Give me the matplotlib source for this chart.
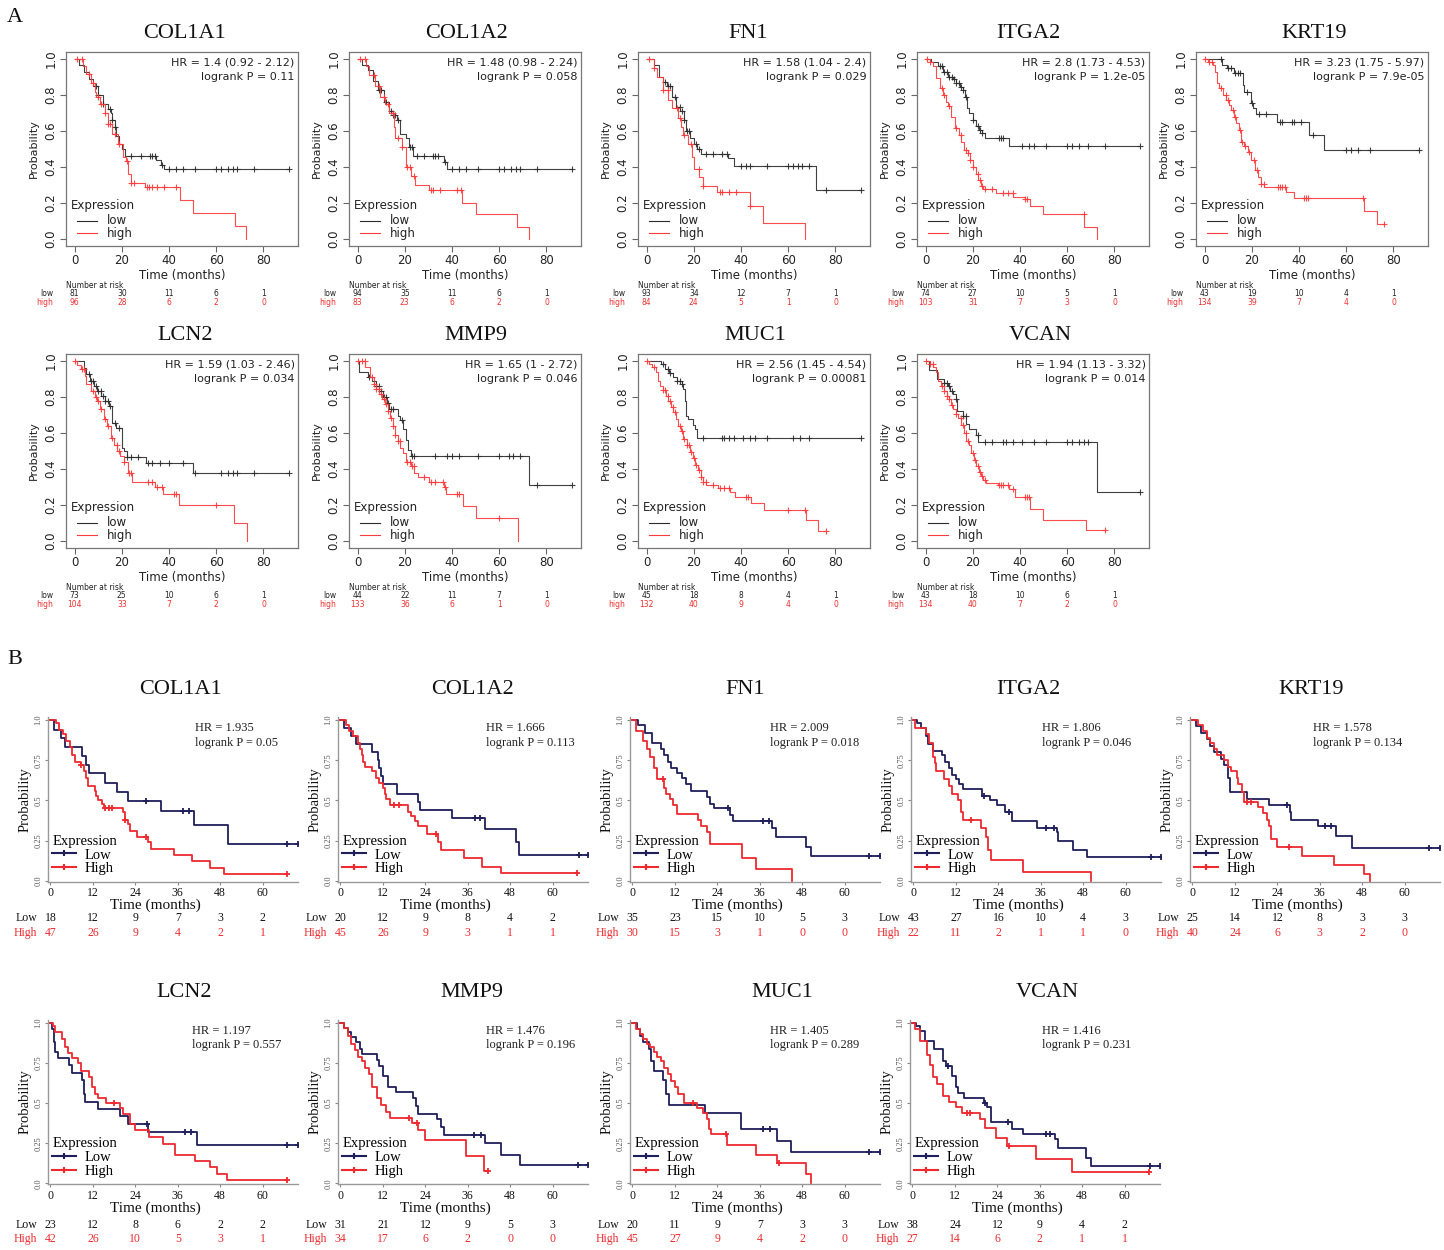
import numpy as np
import matplotlib
matplotlib.use("Agg")
import matplotlib.pyplot as plt
import matplotlib.transforms as mtrans
from matplotlib.lines import Line2D

W, H = 1444, 1250
SERIF = "Liberation Serif"
SANS = "DejaVu Sans"
plt.rcParams["font.family"] = SANS

# ------------------------------------------------------------------ panel A data
genes_a = ["COL1A1", "COL1A2", "FN1", "ITGA2", "KRT19", "LCN2", "MMP9", "MUC1", "VCAN"]
hr_a = ["1.4 (0.92 - 2.12)", "1.48 (0.98 - 2.24)", "1.58 (1.04 - 2.4)", "2.8 (1.73 - 4.53)",
        "3.23 (1.75 - 5.97)", "1.59 (1.03 - 2.46)", "1.65 (1 - 2.72)", "2.56 (1.45 - 4.54)",
        "1.94 (1.13 - 3.32)"]
p_a = ["0.11", "0.058", "0.029", "1.2e-05", "7.9e-05", "0.034", "0.046", "0.00081", "0.014"]
risk_times_a = [0, 20, 40, 60, 80]
risk_low_a = [[81, 30, 11, 6, 1], [94, 35, 11, 6, 1], [93, 34, 12, 7, 1], [74, 27, 10, 5, 1],
              [43, 19, 10, 4, 1], [73, 25, 10, 6, 1], [44, 22, 11, 7, 1], [45, 18, 8, 4, 1],
              [43, 18, 10, 6, 1]]
risk_high_a = [[96, 28, 6, 2, 0], [83, 23, 6, 2, 0], [84, 24, 5, 1, 0], [103, 31, 7, 3, 0],
               [134, 39, 7, 4, 0], [104, 33, 7, 2, 0], [133, 36, 6, 1, 0], [132, 40, 9, 4, 0],
               [134, 40, 7, 2, 0]]

# survival steps (time, probability) and censor times
a_col1a1_low = [(0, 1.0), (2, 0.97), (4, 0.93), (6, 0.89), (8, 0.85), (10, 0.80), (12, 0.75), (14, 0.72),
                (15.5, 0.70), (16, 0.66), (17, 0.62), (17.7, 0.57), (19, 0.53), (20, 0.50), (21.2, 0.46),
                (34.6, 0.44), (36.5, 0.41), (37.7, 0.39)]
a_col1a1_low_cens = [9, 10, 12, 15, 16, 17, 24, 28, 32, 33, 34, 37, 40, 43, 46, 51, 60, 62, 65, 67, 69, 76, 91]
a_col1a1_high = [(0, 1.0), (3.5, 0.96), (5, 0.92), (7, 0.87), (8.5, 0.82), (9.2, 0.79), (10.6, 0.75),
                 (12.7, 0.70), (14, 0.64), (16, 0.585), (18.4, 0.53), (20.5, 0.455), (21.6, 0.435),
                 (22.6, 0.36), (24, 0.31), (30, 0.29), (44.5, 0.215), (50.2, 0.144), (68.1, 0.07), (72.8, 0.0)]
a_col1a1_high_cens = [1, 3, 6, 8, 10, 11, 13, 14, 15, 17, 19, 22, 24, 25, 30.5, 31.5, 33, 35, 38, 43]

a_col1a2_low = [(0, 1.0), (1.8, 0.97), (4.2, 0.94), (6.5, 0.88), (8.8, 0.83), (11, 0.76), (13.4, 0.71),
                (15, 0.69), (16.5, 0.66), (18, 0.585), (20.3, 0.56), (21.8, 0.51), (23.4, 0.46),
                (36.5, 0.43), (38, 0.39)]
a_col1a2_low_cens = [9, 10, 12, 14, 15, 16, 17, 22, 23, 25, 28, 32, 33, 34, 37, 40, 43, 46, 51, 60, 62, 65,
                     67, 69, 76, 91]
a_col1a2_high = [(0, 1.0), (3.4, 0.96), (5, 0.91), (7.2, 0.85), (9.5, 0.79), (11.4, 0.75), (13.4, 0.70),
                 (15.4, 0.62), (16, 0.56), (18.8, 0.51), (20.3, 0.40), (22.6, 0.35), (24.2, 0.30),
                 (30.3, 0.27), (44.2, 0.20), (50, 0.138), (67.7, 0.067), (72.6, 0.0)]
a_col1a2_high_cens = [1, 3, 7, 9, 11, 13, 15, 17, 19, 21, 22, 24, 31, 32, 35, 42, 44]

a_fn1_low = [(0, 1.0), (3, 0.97), (5.4, 0.9), (6.9, 0.875), (8.5, 0.85), (10.8, 0.79), (12.3, 0.735),
             (14.3, 0.71), (15.8, 0.66), (16.9, 0.60), (18.5, 0.56), (20, 0.53), (21.5, 0.50), (23, 0.47),
             (34.6, 0.45), (36.9, 0.405), (71.8, 0.27)]
a_fn1_low_cens = [8, 9, 10, 12, 14, 15, 16, 17, 18, 21, 22, 25, 28, 32, 34, 40, 42, 44, 51, 60, 62, 64, 66,
                  69, 76, 91]
a_fn1_high = [(0, 1.0), (3, 0.95), (4.6, 0.90), (6.9, 0.83), (9.2, 0.77), (10.8, 0.73), (13.1, 0.67),
              (14.6, 0.62), (15.4, 0.58), (17.7, 0.53), (19.2, 0.455), (20, 0.39), (22.3, 0.343),
              (23.8, 0.293), (30, 0.263), (43.8, 0.18), (49.2, 0.09), (67.2, 0.0)]
a_fn1_high_cens = [1, 3, 7, 9, 13, 14, 16, 19, 22, 24, 31, 32, 35, 38, 44]

a_itga2_low = [(0, 1.0), (2.4, 0.985), (5.2, 0.96), (7.3, 0.93), (9.4, 0.90), (11.6, 0.89), (13, 0.866),
               (14.4, 0.847), (15.8, 0.83), (16.5, 0.79), (17.5, 0.726), (18.6, 0.70), (20, 0.66),
               (21.2, 0.63), (22.6, 0.605), (24, 0.587), (25, 0.564), (35.3, 0.518)]
a_itga2_low_cens = [6, 7, 8, 9, 10, 11, 12, 13, 14, 15, 16, 17, 20, 22, 23, 24, 31, 32, 33, 41, 44, 46, 51,
                    60, 62, 65, 69, 76, 91]
a_itga2_high = [(0, 1.0), (1.7, 0.987), (3.1, 0.96), (4.5, 0.894), (5.9, 0.838), (7.3, 0.80), (8.5, 0.763),
                (9.4, 0.74), (10.9, 0.68), (12.3, 0.615), (14.1, 0.577), (15.1, 0.54), (16.1, 0.493),
                (17.9, 0.475), (18.9, 0.438), (20, 0.40), (21.2, 0.36), (22.1, 0.33), (23.3, 0.294),
                (24.3, 0.28), (29.9, 0.257), (37.2, 0.233), (41.9, 0.223), (44.3, 0.18), (49.9, 0.136),
                (67.3, 0.065), (72.6, 0.0)]
a_itga2_high_cens = [0.5, 2, 7, 8, 10, 13, 15, 17, 18, 19, 20, 22, 23, 24, 25, 28, 33, 35, 37, 42, 43, 67]

a_krt19_low = [(0, 1.0), (7.3, 0.968), (9.6, 0.953), (12.4, 0.925), (16.2, 0.857), (16.9, 0.816),
               (19.7, 0.754), (20.4, 0.726), (21.9, 0.695), (30.7, 0.652), (44.4, 0.577), (50.5, 0.497)]
a_krt19_low_cens = [7, 10, 11, 13, 14, 15, 18, 20, 23, 26, 32, 33, 37, 38, 41, 46, 60, 62, 65, 70, 91]
a_krt19_high = [(0, 1.0), (1.4, 0.987), (3.5, 0.968), (4.5, 0.93), (5.2, 0.866), (6.3, 0.838), (7.8, 0.80),
                (9.2, 0.773), (10.2, 0.745), (11.3, 0.717), (12.4, 0.68), (13.4, 0.642), (14.4, 0.605),
                (15.5, 0.54), (16.9, 0.516), (18.3, 0.484), (19.7, 0.438), (21.2, 0.382), (22.6, 0.345),
                (24, 0.307), (25.1, 0.289), (34.6, 0.26), (37.8, 0.227), (67.7, 0.153), (72.9, 0.08)]
a_krt19_high_cens = [0, 2, 3, 7, 9, 10, 12, 13, 15, 16, 17, 19, 21, 22, 24, 25, 31, 32, 33, 34, 42, 43, 44,
                     67, 76]

a_lcn2_low = [(0, 1.0), (3.9, 0.96), (5, 0.93), (6.6, 0.89), (8.2, 0.863), (9.7, 0.835), (11.3, 0.807),
              (12.9, 0.78), (14.5, 0.75), (15.7, 0.657), (17.6, 0.63), (20, 0.517), (20.8, 0.498),
              (22, 0.464), (30.2, 0.433), (50.2, 0.378)]
a_lcn2_low_cens = [6, 7, 8, 9, 10, 11, 12, 13, 14, 15, 17, 19, 22, 24, 27, 31, 33, 36, 40, 46, 51, 62, 65,
                   67, 69, 76, 91]
a_lcn2_high = [(0, 1.0), (1.1, 0.976), (2.7, 0.957), (4.2, 0.92), (5, 0.873), (7.1, 0.835), (8.6, 0.80),
               (9.7, 0.78), (10.8, 0.732), (12.4, 0.676), (13.7, 0.64), (15.3, 0.573), (16.8, 0.536),
               (18.1, 0.498), (19.2, 0.47), (20.8, 0.436), (22.8, 0.376), (24.4, 0.33), (34.1, 0.30),
               (37.3, 0.26), (44.3, 0.197), (67.5, 0.10), (73, 0.0)]
a_lcn2_high_cens = [0, 3, 4, 8, 9, 10, 11, 13, 14, 16, 18, 19, 21, 23, 24, 31, 33, 35, 37, 42, 43, 60]

a_mmp9_low = [(0, 1.0), (0.8, 0.938), (4.4, 0.91), (6, 0.89), (7.6, 0.863), (9.1, 0.835), (10.7, 0.80),
              (12.3, 0.77), (13.1, 0.732), (17, 0.695), (17.8, 0.672), (19.4, 0.62), (20.6, 0.564),
              (21.4, 0.507), (22.5, 0.47), (72.6, 0.31)]
a_mmp9_low_cens = [5, 8, 9, 10, 11, 12, 13, 14, 15, 19, 23, 24, 33, 38, 40, 43, 51, 60, 64, 66, 69, 76, 91]
a_mmp9_high = [(0, 1.0), (3.3, 0.966), (5.2, 0.91), (6.8, 0.873), (8, 0.845), (9.1, 0.816), (10.2, 0.79),
               (11.5, 0.76), (12.8, 0.72), (13.9, 0.685), (15, 0.64), (15.9, 0.59), (17, 0.554),
               (18.1, 0.517), (19.4, 0.49), (20.5, 0.44), (22.5, 0.414), (24.1, 0.376), (25.4, 0.354),
               (30.4, 0.33), (36.7, 0.30), (37.5, 0.26), (44.6, 0.193), (50.1, 0.125), (67.9, 0.0)]
a_mmp9_high_cens = [0, 2, 3, 6, 7, 8, 9, 10, 11, 12, 13, 14, 15, 16, 17, 18, 21, 22, 23, 24, 28, 31, 33, 36,
                    37, 42, 43, 60]

a_muc1_low = [(0, 1.0), (6.1, 0.985), (7.8, 0.957), (9.6, 0.934), (11, 0.91), (12.7, 0.89), (14.8, 0.872),
              (15.5, 0.844), (16.3, 0.78), (16.7, 0.694), (17.7, 0.68), (19.5, 0.647), (20.5, 0.62),
              (21.5, 0.573)]
a_muc1_low_cens = [7, 9, 10, 13, 14, 15, 24, 32, 33, 35, 37, 41, 44, 46, 51, 62, 65, 69, 91]
a_muc1_high = [(0, 1.0), (1.1, 0.985), (2.5, 0.966), (4, 0.938), (4.9, 0.89), (5.7, 0.863), (6.8, 0.84),
               (8.2, 0.807), (9.2, 0.78), (10.2, 0.747), (11.3, 0.717), (12.4, 0.68), (13.4, 0.64),
               (14.6, 0.61), (15.5, 0.567), (17, 0.535), (18.4, 0.497), (19.5, 0.46), (20.5, 0.422),
               (21.9, 0.394), (22.9, 0.357), (24, 0.328), (25.2, 0.31), (30.4, 0.295), (35.3, 0.272),
               (37.5, 0.244), (44.2, 0.21), (49.9, 0.173), (67.4, 0.116), (72.5, 0.056)]
a_muc1_high_cens = [0, 3, 7, 8, 9, 10, 11, 12, 14, 15, 16, 17, 18, 19, 20, 21, 22, 23, 24, 25, 28, 31, 33,
                    35, 42, 43, 60, 67, 76]

a_vcan_low = [(0, 1.0), (1.3, 0.953), (5, 0.90), (8, 0.88), (9.4, 0.863), (10.2, 0.835), (11.6, 0.82),
              (12.7, 0.79), (13.3, 0.72), (15.8, 0.694), (17.2, 0.653), (18.6, 0.62), (21.4, 0.59),
              (22.1, 0.548), (72.6, 0.272)]
a_vcan_low_cens = [8, 9, 10, 11, 13, 16, 17, 22, 25, 28, 33, 34, 37, 41, 46, 51, 60, 62, 65, 67, 69, 91]
a_vcan_high = [(0, 1.0), (1.7, 0.985), (3.1, 0.966), (4.5, 0.938), (5.2, 0.89), (6.6, 0.863), (7.6, 0.835),
               (9, 0.807), (9.9, 0.788), (10.9, 0.754), (11.8, 0.735), (12.7, 0.704), (13.7, 0.685),
               (15.1, 0.647), (16.1, 0.60), (17.2, 0.553), (18.3, 0.535), (19.3, 0.488), (20.3, 0.45),
               (21.2, 0.417), (22.8, 0.385), (23.6, 0.36), (24.5, 0.338), (25.4, 0.323), (30.6, 0.308),
               (35.5, 0.29), (37.7, 0.244), (44.4, 0.178), (49.9, 0.118), (68, 0.06)]
a_vcan_high_cens = [0, 2, 3, 7, 8, 9, 10, 11, 13, 15, 16, 17, 18, 20, 21, 22, 23, 24, 25, 31, 32, 33, 35,
                    37, 42, 43, 44, 76]

# ------------------------------------------------------------------ panel B data
genes_b = genes_a
hr_b = ["1.935", "1.666", "2.009", "1.806", "1.578", "1.197", "1.476", "1.405", "1.416"]
p_b = ["0.05", "0.113", "0.018", "0.046", "0.134", "0.557", "0.196", "0.289", "0.231"]
risk_times_b = [0, 12, 24, 36, 48, 60]
risk_low_b = [[18, 12, 9, 7, 3, 2], [20, 12, 9, 8, 4, 2], [35, 23, 15, 10, 5, 3], [43, 27, 16, 10, 4, 3],
              [25, 14, 12, 8, 3, 3], [23, 12, 8, 6, 2, 2], [31, 21, 12, 9, 5, 3], [20, 11, 9, 7, 3, 3],
              [38, 24, 12, 9, 4, 2]]
risk_high_b = [[47, 26, 9, 4, 2, 1], [45, 26, 9, 3, 1, 1], [30, 15, 3, 1, 0, 0], [22, 11, 2, 1, 1, 0],
               [40, 24, 6, 3, 2, 0], [42, 26, 10, 5, 3, 1], [34, 17, 6, 2, 0, 0], [45, 27, 9, 4, 2, 0],
               [27, 14, 6, 2, 1, 1]]

b_col1a1_low = [(0, 1.0), (1, 0.94), (3, 0.89), (4, 0.83), (9, 0.776), (10, 0.72), (11, 0.67), (15.4, 0.61),
                (18.9, 0.555), (22, 0.496), (31.3, 0.434), (40.7, 0.346), (50.3, 0.23)]
b_col1a1_low_cens = [27, 37.5, 39.3, 67, 70]
b_col1a1_high = [(0, 1.0), (1.5, 0.98), (2.5, 0.94), (3.5, 0.91), (4.5, 0.87), (5.5, 0.83), (6, 0.78),
                 (7, 0.74), (8.5, 0.72), (9.5, 0.68), (10, 0.64), (10.5, 0.59), (12.5, 0.56), (13, 0.53),
                 (13.5, 0.5), (14.5, 0.475), (15, 0.455), (20.5, 0.43), (21, 0.38), (22, 0.35), (22.5, 0.31),
                 (24.5, 0.275), (27.5, 0.24), (28.5, 0.2), (35, 0.16), (40, 0.12), (45, 0.08), (49, 0.04)]
b_col1a1_high_cens = [8.5, 15.5, 16.5, 17.5, 21, 27, 67]

b_col1a2_low = [(0, 1.0), (1, 0.95), (3, 0.9), (4.5, 0.85), (9, 0.8), (10.5, 0.75), (11, 0.7), (11.5, 0.65),
                (12, 0.6), (16, 0.54), (22, 0.49), (22.5, 0.44), (31.5, 0.39), (41, 0.32), (49.5, 0.24),
                (50.5, 0.16)]
b_col1a2_low_cens = [38, 39.5, 67.4, 70]
b_col1a2_high = [(0, 1.0), (1.5, 0.97), (2.5, 0.93), (3.5, 0.9), (5, 0.86), (5.5, 0.82), (6, 0.78),
                 (6.5, 0.74), (7, 0.71), (9, 0.68), (10, 0.64), (11, 0.61), (12, 0.58), (12.5, 0.54),
                 (13, 0.51), (14, 0.47), (19, 0.43), (20, 0.4), (21, 0.37), (22, 0.34), (24.5, 0.29),
                 (27.5, 0.24), (28.5, 0.19), (35, 0.14), (40, 0.085), (45.5, 0.045)]
b_col1a2_high_cens = [15, 16.5, 27, 67]

b_fn1_low = [(0, 1.0), (1.5, 0.97), (3.5, 0.92), (5.5, 0.86), (8, 0.82), (9, 0.78), (10, 0.74), (11, 0.7),
             (12.5, 0.67), (14, 0.64), (15, 0.6), (16.5, 0.56), (21, 0.52), (22, 0.48), (23, 0.45),
             (27.5, 0.41), (28.5, 0.37), (39.5, 0.33), (40.5, 0.27), (49, 0.21), (50.5, 0.155)]
b_fn1_low_cens = [27, 37, 38.7, 67, 70]
b_fn1_high = [(0, 1.0), (1, 0.93), (3, 0.87), (4, 0.82), (5, 0.77), (6, 0.7), (7, 0.63), (9, 0.58),
              (9.5, 0.54), (10.5, 0.51), (11.5, 0.47), (12.5, 0.415), (18.5, 0.38), (19.5, 0.34), (21, 0.3),
              (22, 0.23), (31, 0.14), (35, 0.07), (45, 0.0)]
b_fn1_high_cens = [8.5]

b_itga2_low = [(0, 1.0), (1, 0.98), (2, 0.95), (3.5, 0.9), (4, 0.85), (5.5, 0.81), (8, 0.78), (9, 0.74),
               (10, 0.7), (11, 0.66), (12, 0.63), (13, 0.6), (14, 0.57), (19.5, 0.53), (21.5, 0.5),
               (23.5, 0.47), (26, 0.43), (28, 0.37), (35, 0.33), (40.5, 0.3), (41, 0.25), (45, 0.19),
               (49, 0.145)]
b_itga2_low_cens = [20, 27, 37.6, 39.6, 67.2, 70]
b_itga2_high = [(0, 1.0), (0.5, 0.95), (3.5, 0.91), (4.5, 0.86), (5.5, 0.77), (6, 0.73), (6.5, 0.68),
                (8.5, 0.63), (10, 0.59), (11, 0.54), (12.5, 0.5), (13.5, 0.43), (14, 0.38), (19, 0.33),
                (20.5, 0.27), (21, 0.19), (22, 0.127), (31, 0.053), (50.3, 0.0)]
b_itga2_high_cens = [16.4]

b_krt19_low = [(0, 1.0), (1, 0.96), (2.5, 0.92), (4, 0.88), (5, 0.84), (6, 0.8), (8, 0.76), (9, 0.72),
               (10, 0.64), (10.5, 0.55), (15.5, 0.51), (21.5, 0.47), (27.5, 0.43), (28, 0.38), (35.5, 0.34),
               (40.5, 0.28), (45, 0.205)]
b_krt19_low_cens = [26.7, 37.4, 39.2, 66.8, 70]
b_krt19_high = [(0, 1.0), (1.5, 0.97), (3, 0.93), (4, 0.89), (5, 0.86), (6, 0.82), (7, 0.78), (9, 0.75),
                (10, 0.71), (11, 0.68), (12.5, 0.64), (13, 0.6), (14, 0.55), (14.5, 0.49), (18.6, 0.46),
                (19.9, 0.42), (21, 0.38), (21.5, 0.34), (22.2, 0.26), (23.8, 0.21), (31.1, 0.154),
                (40, 0.095), (48.6, 0.042), (50.1, 0.0)]
b_krt19_high_cens = [15.4, 16.5, 27.2]

b_lcn2_low = [(0, 1.0), (0.5, 0.96), (1, 0.88), (1.3, 0.82), (2, 0.78), (5.3, 0.74), (6, 0.69), (9, 0.645),
              (9.5, 0.56), (9.8, 0.51), (13.3, 0.466), (19.7, 0.42), (22, 0.37), (27.7, 0.32), (41.4, 0.24)]
b_lcn2_low_cens = [27.2, 38, 39.7, 66.9, 70]
b_lcn2_high = [(0, 1.0), (0.8, 0.98), (1.2, 0.94), (3.4, 0.9), (4.2, 0.85), (5, 0.81), (6.1, 0.78),
               (7.7, 0.75), (8.5, 0.7), (10.9, 0.66), (11.7, 0.6), (12.5, 0.56), (13.5, 0.53), (15.7, 0.5),
               (19.7, 0.47), (20.5, 0.43), (22.4, 0.37), (24, 0.33), (28, 0.29), (31.7, 0.245), (35.2, 0.18),
               (40.9, 0.14), (45, 0.1), (47, 0.057), (50, 0.02)]
b_lcn2_high_cens = [18, 67]

b_mmp9_low = [(0, 1.0), (1, 0.97), (2, 0.94), (3, 0.91), (4.5, 0.88), (5.5, 0.84), (6.1, 0.805), (10.4, 0.77),
              (11, 0.73), (12, 0.67), (13.3, 0.6), (15.7, 0.57), (20.5, 0.53), (21.3, 0.48), (22, 0.43),
              (27.4, 0.4), (28.5, 0.35), (29.3, 0.3), (40.8, 0.25), (45.3, 0.18), (50.9, 0.116)]
b_mmp9_low_cens = [37.8, 39.7, 67.2, 70]
b_mmp9_high = [(0, 1.0), (1, 0.97), (2, 0.92), (3, 0.87), (4, 0.83), (5, 0.79), (6, 0.76), (6.9, 0.72),
               (8, 0.68), (9, 0.6), (10.4, 0.53), (11.5, 0.49), (13, 0.445), (14.1, 0.41), (20.2, 0.375),
               (22, 0.33), (24, 0.27), (35.4, 0.17), (40.5, 0.08)]
b_mmp9_high_cens = [19.5, 21.5, 41.8]

b_muc1_low = [(0, 1.0), (1.4, 0.96), (2.2, 0.92), (3, 0.88), (4.6, 0.84), (5.1, 0.76), (6, 0.7),
              (8.7, 0.646), (9.5, 0.56), (10.3, 0.49), (20.4, 0.44), (30.7, 0.34), (40.8, 0.265),
              (44.8, 0.197)]
b_muc1_low_cens = [37, 39, 67, 70]
b_muc1_high = [(0, 1.0), (1, 0.96), (2, 0.93), (3, 0.9), (4, 0.87), (5, 0.85), (6, 0.82), (7, 0.79), (8, 0.76),
               (9, 0.72), (10, 0.68), (11, 0.64), (12, 0.6), (13, 0.56), (14.6, 0.5), (18.3, 0.47), (20, 0.44),
               (21, 0.4), (21.5, 0.34), (22.3, 0.31), (26.8, 0.24), (35, 0.18), (40.8, 0.127), (49.1, 0.057),
               (50.4, 0.0)]
b_muc1_high_cens = [17, 26.5, 41.5]

b_vcan_low = [(0, 1.0), (1, 0.98), (2.2, 0.95), (3.6, 0.886), (6.2, 0.834), (8.5, 0.76), (9.5, 0.73),
              (11.2, 0.668), (12.4, 0.6), (13, 0.564), (14.5, 0.53), (20.1, 0.5), (21.1, 0.475), (22.3, 0.38),
              (28.2, 0.34), (31.3, 0.31), (40.2, 0.274), (41.2, 0.222), (49.2, 0.16), (50.4, 0.108)]
b_vcan_low_cens = [10, 20.5, 27, 37.8, 39, 67.2, 70]
b_vcan_high = [(0, 1.0), (0.6, 0.96), (2.2, 0.886), (4, 0.8), (5, 0.74), (5.7, 0.66), (6.9, 0.62),
               (8.5, 0.547), (10.2, 0.51), (12.4, 0.475), (14, 0.44), (19.2, 0.4), (20.5, 0.346),
               (23.7, 0.284), (26.7, 0.232), (35, 0.15), (45.2, 0.07)]
b_vcan_high_cens = [15.4, 16.4, 27.2, 67]

curves_a = [
    (a_col1a1_low, a_col1a1_low_cens, a_col1a1_high, a_col1a1_high_cens),
    (a_col1a2_low, a_col1a2_low_cens, a_col1a2_high, a_col1a2_high_cens),
    (a_fn1_low, a_fn1_low_cens, a_fn1_high, a_fn1_high_cens),
    (a_itga2_low, a_itga2_low_cens, a_itga2_high, a_itga2_high_cens),
    (a_krt19_low, a_krt19_low_cens, a_krt19_high, a_krt19_high_cens),
    (a_lcn2_low, a_lcn2_low_cens, a_lcn2_high, a_lcn2_high_cens),
    (a_mmp9_low, a_mmp9_low_cens, a_mmp9_high, a_mmp9_high_cens),
    (a_muc1_low, a_muc1_low_cens, a_muc1_high, a_muc1_high_cens),
    (a_vcan_low, a_vcan_low_cens, a_vcan_high, a_vcan_high_cens),
]
curves_b = [
    (b_col1a1_low, b_col1a1_low_cens, b_col1a1_high, b_col1a1_high_cens),
    (b_col1a2_low, b_col1a2_low_cens, b_col1a2_high, b_col1a2_high_cens),
    (b_fn1_low, b_fn1_low_cens, b_fn1_high, b_fn1_high_cens),
    (b_itga2_low, b_itga2_low_cens, b_itga2_high, b_itga2_high_cens),
    (b_krt19_low, b_krt19_low_cens, b_krt19_high, b_krt19_high_cens),
    (b_lcn2_low, b_lcn2_low_cens, b_lcn2_high, b_lcn2_high_cens),
    (b_mmp9_low, b_mmp9_low_cens, b_mmp9_high, b_mmp9_high_cens),
    (b_muc1_low, b_muc1_low_cens, b_muc1_high, b_muc1_high_cens),
    (b_vcan_low, b_vcan_low_cens, b_vcan_high, b_vcan_high_cens),
]

# ------------------------------------------------------------------ layout (pixels)
a_left = [66, 349, 638, 917, 1196, 66, 349, 638, 917]
a_top = [52] * 5 + [354] * 4
a_title_x = [185, 466, 748, 1028, 1314, 185, 476, 755, 1040]
a_w, a_h = 232, 194

b_left = [48, 338, 630, 911, 1190, 48, 338, 630, 910]
b_top = [716.8] * 5 + [1019.6] * 4
b_title_x = [180, 473, 745, 1028, 1311, 184, 472, 782, 1047]
b_hr_x = [195, 486, 770, 1042, 1313, 192, 486, 770, 1042]
b_risk_y = [(918, 933)] * 5 + [(1225, 1239)] * 4
b_w, b_h = 250, 164.7

A_LOW, A_HIGH = "#2b2b2b", "#ff3a3a"
B_LOW, B_HIGH = "#1f1f5c", "#ee2a2f"

fig = plt.figure(figsize=(W / 100, H / 100), dpi=100)


def fx(x):
    return x / W


def fy(y):
    return 1 - y / H


def add_ax(l, t, w, h):
    return fig.add_axes([l / W, 1 - (t + h) / H, w / W, h / H])


def km(ax, steps, cens, color, lw, ms, alpha=1.0):
    t = [p[0] for p in steps]
    s = [p[1] for p in steps]
    end = max([t[-1]] + list(cens))
    ax.step(t + [end], s + [s[-1]], where="post", color=color, lw=lw, alpha=alpha)
    if cens:
        idx = np.searchsorted(t, cens, side="right") - 1
        ax.plot(cens, np.array(s)[idx], ls="none", marker="+", color=color,
                ms=ms, mew=lw, alpha=alpha)


# ------------------------------------------------------------------ draw panel A
for i, g in enumerate(genes_a):
    ax = add_ax(a_left[i], a_top[i], a_w, a_h)
    lo, lo_c, hi, hi_c = curves_a[i]
    km(ax, lo, lo_c, A_LOW, 0.8, 5, 0.9)
    km(ax, hi, hi_c, A_HIGH, 0.8, 5, 0.9)
    ax.set_xlim(-3.64, 94.64)
    ax.set_ylim(-0.04, 1.04)
    ax.set_xticks([0, 20, 40, 60, 80])
    ax.set_yticks([0, 0.2, 0.4, 0.6, 0.8, 1.0])
    ax.set_yticklabels(["0.0", "0.2", "0.4", "0.6", "0.8", "1.0"], rotation=90, va="center")
    ax.tick_params(length=4, width=0.8, color="#666", labelsize=8.5, labelcolor="#222", pad=2)
    for sp in ax.spines.values():
        sp.set_color("#777")
        sp.set_linewidth(0.9)
    ax.text(0.985, 0.945, "HR = " + hr_a[i], transform=ax.transAxes, ha="right", va="center",
            fontsize=8, color="#222")
    ax.text(0.985, 0.87, "logrank P = " + p_a[i], transform=ax.transAxes, ha="right", va="center",
            fontsize=8, color="#222")
    ax.text(-32 / a_w, 0.5, "Probability", transform=ax.transAxes, rotation=90,
            ha="center", va="center", fontsize=8, color="#222")
    ax.text(0.5, -29 / a_h, "Time (months)", transform=ax.transAxes, ha="center", va="center",
            fontsize=8.5, color="#222")
    # R-style legend drawn by hand
    ax.text(0.022, 0.211, "Expression", transform=ax.transAxes, ha="left", va="center",
            fontsize=8.5, color="#222")
    for yy, col, lab in [(0.129, A_LOW, "low"), (0.067, A_HIGH, "high")]:
        ax.plot([0.046, 0.132], [yy, yy], transform=ax.transAxes, color=col, lw=0.8)
        ax.text(0.175, yy, lab, transform=ax.transAxes, ha="left", va="center",
                fontsize=8.5, color="#222")
    fig.text(fx(a_title_x[i]), fy(a_top[i] - 18), g, family=SERIF, fontsize=16,
             ha="center", va="center", color="#111")
    # number at risk table
    top = a_top[i]
    trans = mtrans.blended_transform_factory(ax.transData, fig.transFigure)
    fig.text(fx(a_left[i]), fy(top + 233.5), "Number at risk", fontsize=5.5, color="#222",
             ha="left", va="center")
    fig.text(fx(a_left[i] - 13), fy(top + 242), "low", fontsize=5.5, color="#222",
             ha="right", va="center")
    fig.text(fx(a_left[i] - 13), fy(top + 250.5), "high", fontsize=5.5, color="#f03030",
             ha="right", va="center")
    for t, nl, nh in zip(risk_times_a, risk_low_a[i], risk_high_a[i]):
        ax.text(t, fy(top + 242), str(nl), transform=trans, fontsize=5.5, color="#222",
                ha="center", va="center")
        ax.text(t, fy(top + 250.5), str(nh), transform=trans, fontsize=5.5, color="#f03030",
                ha="center", va="center")

# ------------------------------------------------------------------ draw panel B
for i, g in enumerate(genes_b):
    ax = add_ax(b_left[i], b_top[i], b_w, b_h)
    lo, lo_c, hi, hi_c = curves_b[i]
    km(ax, lo, lo_c, B_LOW, 1.3, 4)
    km(ax, hi, hi_c, B_HIGH, 1.3, 4)
    ax.set_xlim(-0.7, 70)
    ax.set_ylim(-0.005, 1.02)
    ax.set_xticks(risk_times_b)
    ax.set_yticks([0, 0.25, 0.5, 0.75, 1.0])
    ax.set_yticklabels(["0.0", "0.25", "0.5", "0.75", "1.0"], rotation=90, va="center",
                       family=SERIF, fontsize=6, color="#555")
    ax.set_xticklabels([str(t) for t in risk_times_b], family=SERIF, fontsize=8.5, color="#111")
    ax.tick_params(length=2.5, width=0.8, color="#888", pad=1.5)
    for side in ["top", "right"]:
        ax.spines[side].set_visible(False)
    for side in ["left", "bottom"]:
        ax.spines[side].set_color("#999")
        ax.spines[side].set_linewidth(1.0)
    hx = (b_hr_x[i] - b_left[i]) / b_w
    ax.text(hx, 0.932, "HR = " + hr_b[i], transform=ax.transAxes, ha="left", va="center",
            family=SERIF, fontsize=9, color="#222")
    ax.text(hx, 0.843, "logrank P = " + p_b[i], transform=ax.transAxes, ha="left", va="center",
            family=SERIF, fontsize=9, color="#222")
    ax.text(-23 / b_w, 0.5, "Probability", transform=ax.transAxes, rotation=90,
            ha="center", va="center", family=SERIF, fontsize=10.5, color="#111")
    ax.text(0.43, -23.5 / b_h, "Time (months)", transform=ax.transAxes, ha="center", va="center",
            family=SERIF, fontsize=11, color="#111")
    hnd = [Line2D([], [], color=B_LOW, lw=1.5, marker="+", ms=5, mew=1.5),
           Line2D([], [], color=B_HIGH, lw=1.5, marker="+", ms=5, mew=1.5)]
    ax.legend(hnd, ["Low", "High"], title="Expression", loc="lower left",
              bbox_to_anchor=(0.0, 0.01), frameon=False, handlelength=1.6,
              handletextpad=0.6, labelspacing=0.05, borderpad=0.1, borderaxespad=0.2,
              alignment="left", prop={"family": SERIF, "size": 10.5},
              title_fontproperties={"family": SERIF, "size": 10.5})
    fig.text(fx(b_title_x[i]), fy(b_top[i] - 27), g, family=SERIF, fontsize=16,
             ha="center", va="center", color="#111")
    trans = mtrans.blended_transform_factory(ax.transData, fig.transFigure)
    ly, hy = b_risk_y[i]
    fig.text(fx(b_left[i] - 11), fy(ly), "Low", family=SERIF, fontsize=8.5, color="#111",
             ha="right", va="center")
    fig.text(fx(b_left[i] - 11), fy(hy), "High", family=SERIF, fontsize=8.5, color="#ee2a2f",
             ha="right", va="center")
    for t, nl, nh in zip(risk_times_b, risk_low_b[i], risk_high_b[i]):
        ax.text(t, fy(ly), str(nl), transform=trans, family=SERIF, fontsize=8.5, color="#111",
                ha="center", va="center")
        ax.text(t, fy(hy), str(nh), transform=trans, family=SERIF, fontsize=8.5, color="#ee2a2f",
                ha="center", va="center")

fig.text(fx(15), fy(18), "A", family=SERIF, fontsize=16, ha="center", va="center", color="#111")
fig.text(fx(15), fy(660), "B", family=SERIF, fontsize=16, ha="center", va="center", color="#111")

fig.savefig("out.png", dpi=100, facecolor="white")
